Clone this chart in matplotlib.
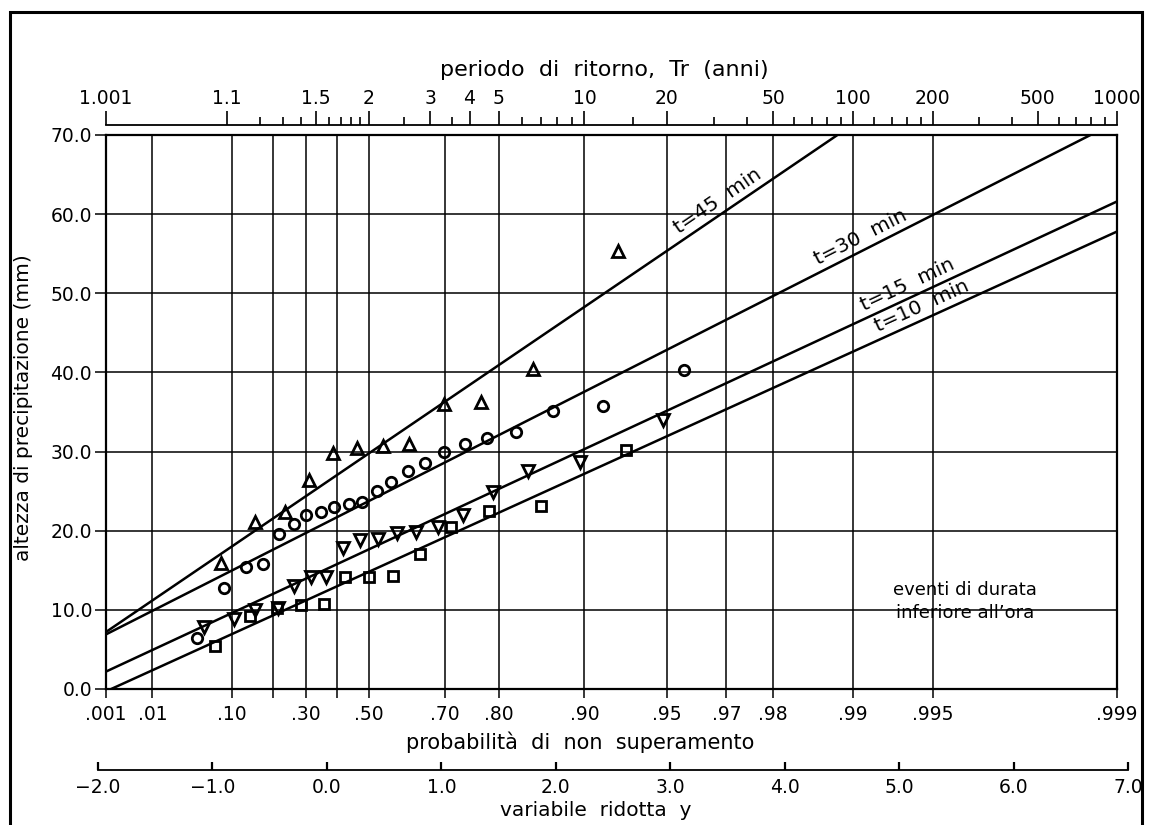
import numpy as np
import matplotlib.pyplot as plt
from matplotlib.patches import Rectangle

# plotting position (reduced variate y) and rainfall depth (mm) for each duration
y_45 = [-0.93, -0.63, -0.37, -0.16, 0.05, 0.26, 0.49, 0.72, 1.02, 1.35, 1.80, 2.54]
h_45 = [15.9, 21.1, 22.4, 26.4, 29.8, 30.4, 30.7, 30.9, 36.0, 36.3, 40.4, 55.4]

y_30 = [-1.14, -0.90, -0.71, -0.56, -0.42, -0.29, -0.18, -0.05, 0.06, 0.19, 0.31,
        0.44, 0.56, 0.71, 0.86, 1.02, 1.21, 1.40, 1.65, 1.98, 2.41, 3.12]
h_30 = [6.4, 12.8, 15.4, 15.8, 19.6, 20.9, 22.0, 22.4, 23.0, 23.4, 23.6,
        25.0, 26.2, 27.6, 28.5, 30.0, 31.0, 31.7, 32.5, 35.1, 35.8, 40.3]

y_15 = [-1.08, -0.81, -0.63, -0.43, -0.29, -0.14, -0.01, 0.14, 0.29, 0.45, 0.61,
        0.78, 0.97, 1.19, 1.45, 1.76, 2.21, 2.94]
h_15 = [7.8, 8.9, 10.0, 10.2, 13.0, 14.2, 14.2, 17.8, 18.8, 18.9, 19.7,
        19.9, 20.5, 22.0, 24.9, 27.6, 28.7, 34.0]

y_10 = [-0.98, -0.67, -0.44, -0.23, -0.03, 0.16, 0.37, 0.58, 0.81, 1.08, 1.42, 1.87, 2.61]
h_10 = [5.4, 9.2, 10.2, 10.6, 10.7, 14.1, 14.1, 14.3, 17.1, 20.5, 22.5, 23.1, 30.2]

# fitted Gumbel lines, depth at the two ends of the paper
fit_y = [-1.933, 6.907]
fit_45 = [7.2, 94.0]
fit_30 = [6.9, 71.7]
fit_15 = [2.2, 61.6]
fit_10 = [-0.3, 57.8]

prob_ticks = [0.001, 0.01, 0.10, 0.20, 0.30, 0.40, 0.50, 0.70, 0.80, 0.90,
              0.95, 0.97, 0.98, 0.99, 0.995, 0.999]
prob_labels = ['.001', '.01', '.10', '', '.30', '', '.50', '.70', '.80', '.90',
               '.95', '.97', '.98', '.99', '.995', '.999']
tr_major = [1.001, 1.1, 1.5, 2, 3, 4, 5, 10, 20, 50, 100, 200, 500, 1000]
tr_labels = ['1.001', '1.1', '1.5', '2', '3', '4', '5', '10', '20', '50',
             '100', '200', '500', '1000']
tr_minor = [1.2, 1.3, 1.4, 1.6, 1.7, 1.8, 1.9, 2.5, 3.5, 6, 7, 8, 9, 15, 30, 40,
            60, 70, 80, 90, 120, 140, 160, 180, 300, 400, 600, 700, 800, 900]
yred_ticks = [-2.0, -1.0, 0.0, 1.0, 2.0, 3.0, 4.0, 5.0, 6.0, 7.0]


def gumbel(p):
    return -np.log(-np.log(np.asarray(p, dtype=float)))


def from_tr(tr):
    return gumbel(1.0 - 1.0 / np.asarray(tr, dtype=float))


W, H = 1152, 825
FS = 13.5
FT = 14.5


def fx(px):
    return px / W


def fy(py):
    return 1 - py / H


fig = plt.figure(figsize=(W / 100, H / 100), dpi=100)

# main plotting area
ax = fig.add_axes([fx(106), fy(689), fx(1117) - fx(106), fy(135) - fy(689)])
xmin, xmax = gumbel(0.001), gumbel(0.999)
ax.set_xlim(xmin, xmax)
ax.set_ylim(0, 70)
ax.set_xticks(gumbel(prob_ticks))
ax.set_xticklabels(prob_labels)
ax.set_yticks(np.arange(0, 71, 10))
ax.set_yticklabels(['%.1f' % v for v in np.arange(0, 71, 10)])
ax.grid(True, color='black', lw=1.1)
ax.tick_params(axis='x', direction='out', length=6.5, width=1.1, pad=5, labelsize=FS)
ax.tick_params(axis='y', direction='out', length=8, width=1.1, pad=2, labelsize=FS)
for s in ax.spines.values():
    s.set_linewidth(1.6)

ax.plot(fit_y, fit_45, color='black', lw=1.8)
ax.plot(fit_y, fit_30, color='black', lw=1.8)
ax.plot(fit_y, fit_15, color='black', lw=1.8)
ax.plot(fit_y, fit_10, color='black', lw=1.8)

mk = dict(linestyle='none', mfc='none', mec='black', mew=2.0, zorder=5, clip_on=False)
ax.plot(y_45, h_45, marker='^', ms=9, **mk)
ax.plot(y_30, h_30, marker='o', ms=7.5, **mk)
ax.plot(y_15, h_15, marker='v', ms=9, **mk)
ax.plot(y_10, h_10, marker='s', ms=7.5, **mk)


# labels written along the fitted lines
def line_label(text, ends, y0, d):
    p0 = ax.transData.transform((fit_y[0], ends[0]))
    p1 = ax.transData.transform((fit_y[1], ends[1]))
    ang = np.degrees(np.arctan2(p1[1] - p0[1], p1[0] - p0[0]))
    h0 = ends[0] + (ends[1] - ends[0]) * (y0 - fit_y[0]) / (fit_y[1] - fit_y[0])
    a = np.radians(ang)
    ax.annotate(text, xy=(y0, h0), xytext=(-np.sin(a) * d, np.cos(a) * d),
                textcoords='offset pixels', rotation=ang, ha='center', va='center',
                rotation_mode='anchor', fontsize=FT)


line_label('t=45  min', fit_45, 3.48, 13)
line_label('t=30  min', fit_30, 4.72, 13)
line_label('t=15  min', fit_15, 5.12, 13)
line_label('t=10  min', fit_10, 5.25, 13)

ax.text(5.58, 11.0, 'eventi di durata\ninferiore all\u2019ora', ha='center',
        va='center', fontsize=13, linespacing=1.35)

# return period axis above the paper
axt = fig.add_axes([fx(106), fy(125) - 0.005, fx(1117) - fx(106), 0.005])
axt.set_xlim(xmin, xmax)
axt.set_ylim(0, 1)
for k in ['left', 'right', 'bottom']:
    axt.spines[k].set_visible(False)
axt.spines['top'].set_linewidth(1.3)
axt.patch.set_visible(False)
axt.set_yticks([])
axt.xaxis.set_ticks_position('top')
axt.set_xticks(from_tr(tr_major))
axt.set_xticklabels(tr_labels)
axt.set_xticks(from_tr(tr_minor), minor=True)
axt.tick_params(axis='x', which='major', direction='out', length=10, width=1.2,
                pad=2, labelsize=FS)
axt.tick_params(axis='x', which='minor', direction='out', length=5.5, width=1.2)

fig.text(fx(604), fy(70), 'periodo  di  ritorno,  Tr  (anni)', ha='center',
         va='center', fontsize=16)
fig.text(fx(580), fy(742), 'probabilit\u00e0  di  non  superamento', ha='center',
         va='center', fontsize=15)
fig.text(fx(596), fy(810), 'variabile  ridotta  y', ha='center',
         va='center', fontsize=FT)
fig.text(fx(24), fy(408), 'altezza di precipitazione (mm)', ha='center',
         va='center', rotation=90, fontsize=FT)

# reduced variate axis below
axb = fig.add_axes([fx(98), fy(770), fx(1128) - fx(98), 0.005])
axb.set_xlim(-2.0, 7.0)
axb.set_ylim(0, 1)
for k in ['left', 'right', 'top']:
    axb.spines[k].set_visible(False)
axb.spines['bottom'].set_linewidth(1.3)
axb.patch.set_visible(False)
axb.set_yticks([])
axb.set_xticks(yred_ticks)
axb.set_xticklabels([('%.1f' % v).replace('-', '\u2212') for v in yred_ticks])
axb.tick_params(axis='x', direction='in', length=6, width=1.6, pad=6, labelsize=FS)

fig.add_artist(Rectangle((fx(10), -0.05), fx(1142) - fx(10), fy(12) + 0.05,
                         transform=fig.transFigure, fill=False, lw=2.2, ec='black'))

fig.savefig('out.png', dpi=100)
